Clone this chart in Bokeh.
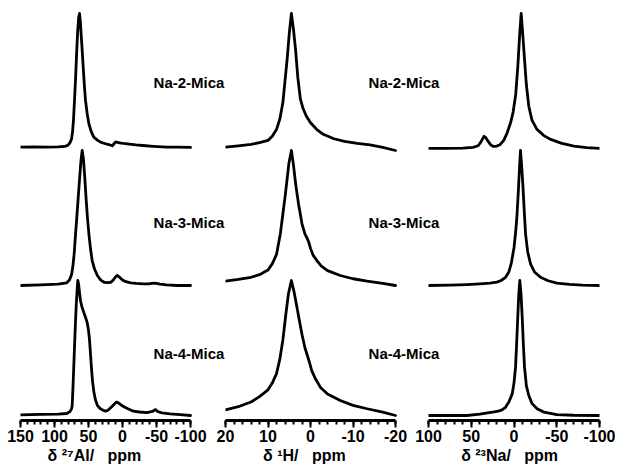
from bokeh.plotting import figure
from bokeh.layouts import row
from bokeh.models import Range1d, FixedTicker, Label
from bokeh.embed import file_html
from bokeh.resources import INLINE

samples = ["Na-2-Mica", "Na-3-Mica", "Na-4-Mica"]

# ---- 27Al spectra (ppm, normalised intensity) ----
al_ppm_na2 = [150, 130, 110, 95, 85, 80, 77, 75, 73.5, 72, 70.6, 69, 67.5, 66, 64.5, 63.2, 62, 60.5, 59.3, 57.5,
              56, 54.4, 52, 49.5, 46, 42.2, 37, 32.4, 25, 20, 17, 15, 12.5, 10, 6, 2, -2, -10, -20, -30,
              -45, -65, -80, -100]
al_int_na2 = [0.01, 0.012, 0.01, 0.012, 0.015, 0.025, 0.045, 0.07, 0.12, 0.22, 0.356, 0.52, 0.7, 0.86, 0.97, 1.0,
              0.94, 0.82, 0.726, 0.58, 0.46, 0.356, 0.26, 0.185, 0.125, 0.084, 0.062, 0.047, 0.035, 0.028,
              0.024, 0.02, 0.035, 0.048, 0.044, 0.04, 0.037, 0.032, 0.026, 0.022, 0.016, 0.01, 0.01, 0.008]
al_ppm_na3 = [150, 120, 95, 82, 78, 75, 73, 71, 69, 67, 65, 63, 61, 59.3, 57.5, 55.5, 53.5, 51.5, 49.5, 47,
              44.6, 41, 37, 32, 27, 22, 17, 13, 10, 7.5, 4, 0, -5, -12, -20, -30, -40, -46, -50, -55,
              -65, -80, -100]
al_int_na3 = [0, 0.005, 0.01, 0.02, 0.04, 0.08, 0.14, 0.24, 0.385, 0.52, 0.66, 0.8, 0.93, 1.0, 0.94, 0.8, 0.64,
              0.5, 0.385, 0.27, 0.185, 0.12, 0.074, 0.04, 0.024, 0.022, 0.024, 0.045, 0.065, 0.074, 0.06,
              0.04, 0.028, 0.02, 0.015, 0.012, 0.013, 0.018, 0.016, 0.01, 0.005, 0, 0]
al_ppm_na4 = [150, 120, 95, 82, 77, 75, 74, 72.5, 71, 69.5, 68, 66.5, 65.7, 64.5, 63, 61.8, 60, 58, 56, 54.4,
              52, 50, 48.5, 47, 45.5, 44, 42, 40, 37, 33, 29, 25, 21, 17, 13, 10, 7.8, 5, 2, -2,
              -8, -16, -25, -36, -44, -48.5, -52, -58, -70, -85, -100]
al_int_na4 = [0.005, 0.008, 0.01, 0.015, 0.03, 0.05, 0.07, 0.25, 0.45, 0.65, 0.82, 0.95, 1.0, 0.97, 0.9, 0.852,
              0.81, 0.78, 0.75, 0.728, 0.69, 0.63, 0.56, 0.45, 0.34, 0.25, 0.17, 0.12, 0.075, 0.052, 0.04,
              0.032, 0.04, 0.06, 0.08, 0.095, 0.099, 0.09, 0.078, 0.065, 0.05, 0.032, 0.026, 0.022, 0.03,
              0.044, 0.028, 0.02, 0.012, 0.006, 0.0]

# ---- 1H spectra ----
h_ppm_na2 = [20, 17, 14, 12, 10, 9, 8, 7.2, 6.5, 6, 5.5, 5, 4.5, 4, 3.5, 3, 2.4, 1.8, 1, 0,
             -1.5, -3, -5.5, -8, -11, -14, -17, -20]
h_int_na2 = [0.01, 0.02, 0.03, 0.043, 0.06, 0.09, 0.14, 0.22, 0.34, 0.5, 0.66, 0.85, 1.0, 0.88, 0.726, 0.53,
             0.37, 0.3, 0.24, 0.19, 0.14, 0.105, 0.072, 0.053, 0.038, 0.026, 0.008, -0.015]
h_ppm_na3 = [20, 17, 14, 12, 10, 9, 8, 7.1, 6.5, 5.9, 5.1, 4.5, 4, 3.5, 2.8, 2, 1.3, 0.8, 0.4, 0,
             -0.6, -1.5, -2.5, -4, -7, -10, -13.3, -17, -20]
h_int_na3 = [0.032, 0.045, 0.061, 0.08, 0.115, 0.16, 0.23, 0.383, 0.53, 0.679, 0.901, 1.0, 0.89, 0.753, 0.6,
             0.457, 0.38, 0.35, 0.32, 0.275, 0.225, 0.185, 0.145, 0.11, 0.074, 0.05, 0.032, 0.015, 0.0]
h_ppm_na4 = [20, 17, 14, 12, 10, 9, 8, 7.2, 6.5, 5.8, 5.2, 4.5, 3.9, 3.3, 2.6, 2, 1.3, 0.8, 0.3, -0.3,
             -1.2, -2.3, -4, -7, -10, -13.3, -17, -20]
h_int_na4 = [0.042, 0.065, 0.1, 0.14, 0.19, 0.24, 0.31, 0.42, 0.56, 0.75, 0.9, 1.0, 0.92, 0.82, 0.7, 0.6,
             0.5, 0.45, 0.4, 0.33, 0.27, 0.21, 0.16, 0.111, 0.075, 0.05, 0.025, 0.0]

# ---- 23Na spectra ----
na_ppm_na2 = [100, 80, 60, 48, 42, 39, 36, 35, 33, 30, 27, 24, 20, 16, 12, 8, 4, 1, -2, -4.5,
              -6.5, -8.4, -10.3, -12.3, -14.5, -17.3, -21, -27, -35, -43, -55, -70, -85, -100]
na_int_na2 = [0, 0, 0.002, 0.008, 0.02, 0.045, 0.08, 0.09, 0.08, 0.05, 0.025, 0.015, 0.018, 0.03, 0.06, 0.116,
              0.19, 0.27, 0.4, 0.61, 0.83, 1.0, 0.84, 0.66, 0.47, 0.313, 0.21, 0.14, 0.095, 0.067, 0.04,
              0.017, 0.007, 0.0]
na_ppm_na3 = [100, 75, 55, 40, 28, 20, 15, 10, 6, 3, 0, -2, -3.5, -5, -6.5, -7.6, -8.8, -10.3, -12, -13.5,
              -16, -19.3, -24, -31, -40, -50, -65, -80, -100]
na_int_na3 = [0, 0.003, 0.007, 0.012, 0.017, 0.025, 0.037, 0.06, 0.1, 0.17, 0.28, 0.4, 0.52, 0.69, 0.88, 1.0,
              0.9, 0.753, 0.55, 0.383, 0.25, 0.161, 0.1, 0.061, 0.035, 0.017, 0.008, 0.003, 0]
na_ppm_na4 = [100, 75, 55, 40, 31, 25, 19.6, 14, 9.9, 6, 2.1, 0, -1.8, -3, -4.4, -5.6, -6.8, -8.2, -9.6, -11,
              -12.3, -14.5, -17.3, -21, -27, -35, -50, -70, -100]
na_int_na4 = [0, 0, 0, 0.01, 0.02, 0.025, 0.03, 0.042, 0.061, 0.1, 0.16, 0.24, 0.358, 0.52, 0.728, 0.9, 1.0,
              0.9, 0.728, 0.52, 0.358, 0.22, 0.148, 0.09, 0.05, 0.025, 0.007, 0.002, 0]

al_major = [150, 100, 50, 0, -50, -100]
al_minor = list(range(-100, 151, 10))
h_major = [20, 10, 0, -10, -20]
h_minor = list(range(-20, 21, 2))
na_major = [100, 50, 0, -50, -100]
na_minor = list(range(-100, 101, 10))

NB = "\u00a0"
al_title = "δ ²⁷Al/" + NB * 3 + "ppm" + NB * 14
h_title = "δ ¹H/" + NB * 3 + "ppm" + NB * 14
na_title = "δ ²³Na/" + NB * 3 + "ppm" + NB * 2

OFFSETS = [1.978, 0.963, 0.0]
Y0, Y1 = -0.037, 3.0
FONT = "Liberation Sans"


def make_panel(xr, bounds, majors, minors, curves, title, frame_w, left, right, mleft):
    p = figure(output_backend="svg", toolbar_location=None, y_axis_type=None,
               frame_width=frame_w, frame_height=410,
               x_range=Range1d(*xr), y_range=Range1d(Y0, Y1),
               min_border_left=left, min_border_right=right, min_border_top=10, min_border_bottom=10,
               margin=(0, 0, 0, mleft))
    p.outline_line_color = None
    p.grid.visible = False
    p.background_fill_color = None
    p.border_fill_color = None
    for (xs, ys), off in zip(curves, OFFSETS):
        p.line(xs, [v + off for v in ys], line_color="black", line_width=2.8,
               line_join="round", line_cap="round")
    ax = p.xaxis[0]
    ax.bounds = bounds
    ax.ticker = FixedTicker(ticks=majors, minor_ticks=minors)
    ax.major_label_overrides = {t: str(t) for t in majors}
    ax.axis_line_width = 3
    ax.axis_line_color = "black"
    ax.major_tick_in = 0
    ax.major_tick_out = 7
    ax.major_tick_line_width = 2
    ax.minor_tick_in = 0
    ax.minor_tick_out = 4
    ax.minor_tick_line_width = 2
    ax.major_label_standoff = 2
    ax.major_label_text_font = FONT
    ax.major_label_text_font_style = "bold"
    ax.major_label_text_font_size = "16px"
    ax.major_label_text_color = "black"
    ax.axis_label = title
    ax.axis_label_text_font = FONT
    ax.axis_label_text_font_style = "bold"
    ax.axis_label_text_font_size = "16px"
    ax.axis_label_text_color = "black"
    ax.axis_label_standoff = 2
    return p


def add_samples(p, xpos):
    ys = [2.467, 1.43, 0.459]
    for name, yv in zip(samples, ys):
        p.add_layout(Label(x=xpos, y=yv, text=name, text_font=FONT, text_font_style="bold",
                           text_font_size="15px", text_align="center", text_baseline="middle",
                           text_color="black"))


p1 = make_panel((150, -158.8), (-100, 150), al_major, al_minor,
                [(al_ppm_na2, al_int_na2), (al_ppm_na3, al_int_na3), (al_ppm_na4, al_int_na4)],
                al_title, 210, 20, 2, 0)
p2 = make_panel((20, -31.76), (-20, 20), h_major, h_minor,
                [(h_ppm_na2, h_int_na2), (h_ppm_na3, h_int_na3), (h_ppm_na4, h_int_na4)],
                h_title, 220, 18, 2, -25)
p3 = make_panel((100, -100), (-100, 100), na_major, na_minor,
                [(na_ppm_na2, na_int_na2), (na_ppm_na3, na_int_na3), (na_ppm_na4, na_int_na4)],
                na_title, 171, 18, 16, -37)

add_samples(p1, -97.8)
add_samples(p2, -22.0)

layout = row(p1, p2, p3)
open("out.html", "w").write(file_html(layout, INLINE))
